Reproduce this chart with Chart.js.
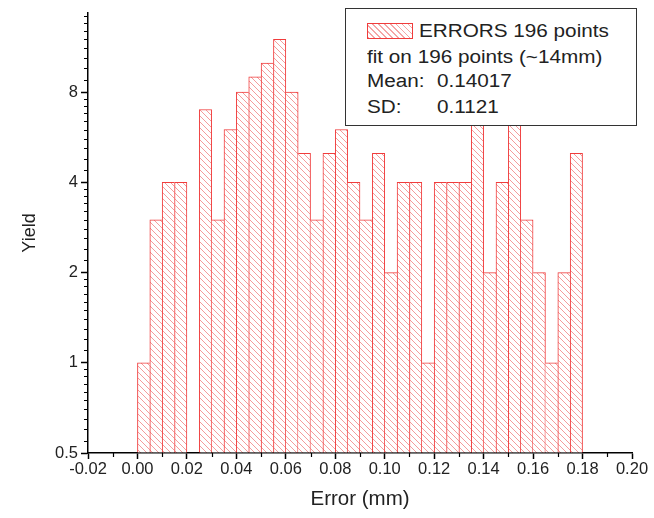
<!DOCTYPE html>
<html>
<head>
<meta charset="utf-8">
<script src="https://cdn.jsdelivr.net/npm/chart.js@4/dist/chart.umd.min.js"></script>
<style>
  html, body { margin: 0; padding: 0; background: #fff; }
  #wrap { position: relative; width: 654px; height: 518px; }
  #chart { position: absolute; left: 0; top: 0; }
  /* legend box, drawn as real text on top of the plot (covers bars like the original) */
  #legend {
    position: absolute; left: 345px; top: 8px; width: 292px; height: 118px;
    border: 1px solid #333; background: #fff; box-sizing: border-box;
    font-family: "Liberation Sans", Arial, sans-serif; font-size: 18px; color: #222;
  }
  #legend .row { position: absolute; height: 24px; line-height: 24px; white-space: nowrap;
                 transform: scaleX(1.15); transform-origin: left center; }
  #legend .swatch {
    position: absolute; left: 21px; top: 14px; width: 46px; height: 16px; box-sizing: border-box;
    border: 1px solid #f03c3c;
    background: repeating-linear-gradient(45deg, #f4a6a6 0 1px, #fff 1px 4.2px);
  }
</style>
</head>
<body>
<div id="wrap">
  <canvas id="chart" width="654" height="518"></canvas>
  <div id="legend">
    <div class="swatch"></div>
    <div class="row" style="left:73px; top:10px;">ERRORS 196 points</div>
    <div class="row" style="left:21px; top:36px;">fit on 196 points (~14mm)</div>
    <div class="row" style="left:21px; top:60px;">Mean:</div>
    <div class="row" style="left:91px; top:60px;">0.14017</div>
    <div class="row" style="left:21px; top:86px;">SD:</div>
    <div class="row" style="left:91px; top:86px;">0.1121</div>
  </div>
</div>

<script>
"use strict";

// ── Data ────────────────────────────────────────────────────────────────────
// left edge of every 0.005 mm bin
const binStarts = [
  0.000, 0.005, 0.010, 0.015, 0.020, 0.025, 0.030, 0.035, 0.040, 0.045,
  0.050, 0.055, 0.060, 0.065, 0.070, 0.075, 0.080, 0.085, 0.090, 0.095,
  0.100, 0.105, 0.110, 0.115, 0.120, 0.125, 0.130, 0.135, 0.140, 0.145,
  0.150, 0.155, 0.160, 0.165, 0.170, 0.175,
];
const binWidth = 0.005;
// counts per bin (null = empty bin)
const counts = [
  1, 3, 4, 4, null, 7, 3, 6, 8, 9,
  10, 12, 8, 5, 3, 5, 6, 4, 3, 5,
  2, 4, 4, 1, 4, 4, 4, 7, 2, 4,
  7, 3, 2, 1, 2, 5,
];

const xTicks = [-0.02, 0.00, 0.02, 0.04, 0.06, 0.08, 0.10, 0.12, 0.14, 0.16, 0.18, 0.20];
const xMinorTicks = [-0.01, 0.01, 0.03, 0.05, 0.07, 0.09, 0.11, 0.13, 0.15, 0.17, 0.19];
const yTicks = [0.5, 1, 2, 4, 8];
const yMin = 0.5;
const yMax = 14.7;

// ── Style ────────────────────────────────────────────────────────────────────
const FONT = "'Liberation Sans', Arial, sans-serif";
const CLR = {
  bar:   "#f03c3c",
  hatch: "rgba(236,90,90,0.6)",
  axis:  "#000",
  text:  "#222",
};

// "\\\" hatch pattern like Origin's default fill
function makeHatch() {
  const c = document.createElement("canvas");
  c.width = 6; c.height = 6;
  const g = c.getContext("2d");
  g.fillStyle = "#fff";
  g.fillRect(0, 0, 6, 6);
  g.strokeStyle = CLR.hatch;
  g.lineWidth = 1;
  g.beginPath();
  g.moveTo(-1, -1); g.lineTo(7, 7);
  g.moveTo(-1, 5);  g.lineTo(1, 7);
  g.moveTo(5, -1);  g.lineTo(7, 1);
  g.stroke();
  return g.createPattern(c, "repeat");
}

// shared edge between two bins is drawn once, by the taller one
function edgeWidths(ctx) {
  const i = ctx.dataIndex;
  const cur = counts[i] || 0;
  const prev = i > 0 ? (counts[i - 1] || 0) : 0;
  const next = i < counts.length - 1 ? (counts[i + 1] || 0) : 0;
  return {
    top:    1,
    bottom: 0,
    left:   prev <= cur ? 1 : 0,
    right:  next < cur ? 1 : 0,
  };
}

// ── Minor tick marks (Origin style, outward) ────────────────────────────────
const minorTicks = {
  id: "minorTicks",
  afterDraw(chart) {
    const { ctx, scales: { x, y } } = chart;
    ctx.save();
    ctx.strokeStyle = CLR.axis;
    ctx.lineWidth = 1.2;
    ctx.beginPath();
    xMinorTicks.forEach(v => {
      const px = Math.round(x.getPixelForValue(v)) + 0.5;
      ctx.moveTo(px, y.bottom);
      ctx.lineTo(px, y.bottom + 4);
    });
    yTicks.forEach(base => {
      for (let k = 1; k <= 9; k++) {
        const v = base * (1 + k / 10);
        if (v >= yMax) break;
        const py = Math.round(y.getPixelForValue(v)) + 0.5;
        ctx.moveTo(x.left, py);
        ctx.lineTo(x.left - 4, py);
      }
    });
    ctx.stroke();
    ctx.restore();
  },
};

// ── Chart ────────────────────────────────────────────────────────────────────
const ctx = document.getElementById("chart").getContext("2d");

new Chart(ctx, {
  type: "bar",
  data: {
    datasets: [{
      data: binStarts.map((s, i) => ({ x: s + binWidth / 2, y: counts[i] })),
      backgroundColor: makeHatch(),
      borderColor: CLR.bar,
      borderWidth: edgeWidths,
      borderSkipped: false,
      base: yMin,
      barPercentage: 1,
      categoryPercentage: 1,
    }],
  },
  options: {
    responsive: false,
    animation: false,
    devicePixelRatio: 1,
    layout: { padding: { top: 9, right: 22, left: 0, bottom: 0 } },
    plugins: {
      legend: { display: false },
      tooltip: { enabled: false },
    },
    scales: {
      x: {
        type: "linear",
        min: -0.02,
        max: 0.20,
        offset: false,
        afterBuildTicks: s => { s.ticks = xTicks.map(v => ({ value: v })); },
        afterFit: s => { s.height = 65; },
        grid: {
          offset: false,
          drawOnChartArea: false,
          tickLength: 6,
          tickColor: CLR.axis,
          tickWidth: 1.5,
        },
        border: { display: true, color: CLR.axis, width: 1.5 },
        ticks: {
          autoSkip: false,
          maxRotation: 0,
          padding: 1,
          color: CLR.text,
          font: { family: FONT, size: 16.5 },
          callback: v => Number(v).toFixed(2),
        },
        title: {
          display: true,
          text: "Error (mm)",
          color: CLR.text,
          font: { family: FONT, size: 20.5 },
          padding: { top: 0, bottom: 6 },
        },
      },
      y: {
        type: "logarithmic",
        min: yMin,
        max: yMax,
        afterBuildTicks: s => { s.ticks = yTicks.map(v => ({ value: v })); },
        afterFit: s => { s.width = 88; },
        grid: {
          drawOnChartArea: false,
          tickLength: 7,
          tickColor: CLR.axis,
          tickWidth: 1.5,
        },
        border: { display: true, color: CLR.axis, width: 1.5 },
        ticks: {
          padding: 3,
          color: CLR.text,
          font: { family: FONT, size: 16.5 },
          callback: v => String(v),
        },
        title: {
          display: true,
          text: "Yield",
          color: CLR.text,
          font: { family: FONT, size: 18 },
          padding: { top: 19, bottom: 0 },
        },
      },
    },
  },
  plugins: [minorTicks],
});
</script>
</body>
</html>
